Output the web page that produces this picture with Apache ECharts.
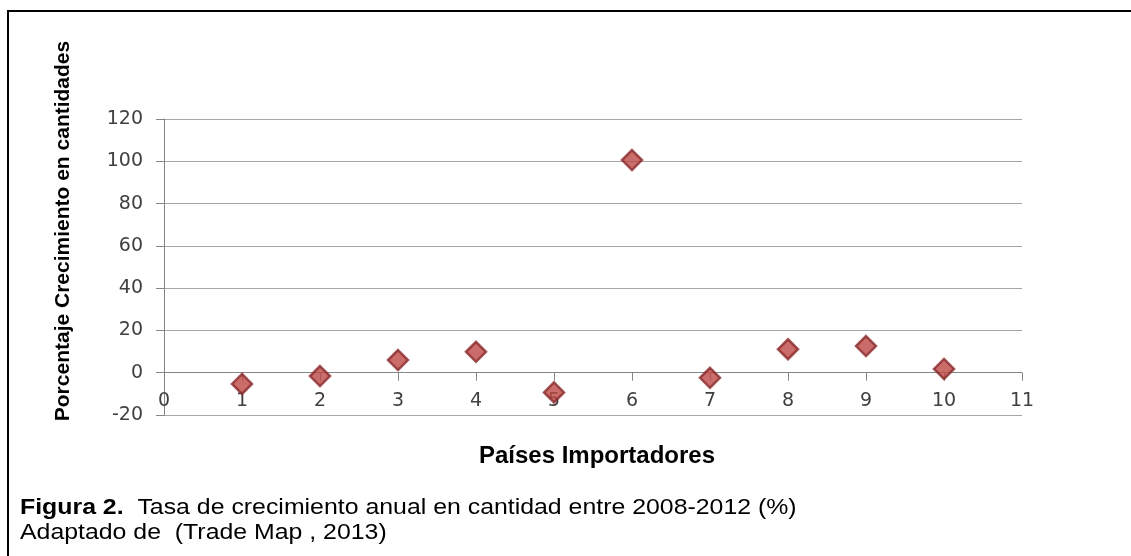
<!DOCTYPE html>
<html>
<head>
<meta charset="utf-8">
<script src="https://cdn.jsdelivr.net/npm/echarts@6/dist/echarts.min.js"></script>
<style>
  html, body { margin: 0; padding: 0; background: #fff; }
  #chart { width: 1131px; height: 556px; }
</style>
</head>
<body>
<div id="chart"></div>
<script>
// Importing countries (numbered 1..10) and their annual quantity growth, 2008-2012 (%)
const paises = [1, 2, 3, 4, 5, 6, 7, 8, 9, 10];
const crecimiento = [-5.3, -1.6, 6.0, 9.9, -9.3, 100.6, -2.4, 11.1, 12.6, 1.8];

const yTitulo = 'Porcentaje Crecimiento en cantidades';
const xTitulo = 'Países Importadores';
const figuraEtiqueta = 'Figura 2.';
const figuraTexto = '  Tasa de crecimiento anual en cantidad entre 2008-2012 (%)';
const fuente = 'Adaptado de  (Trade Map , 2013)';

const puntos = paises.map((p, i) => [p, crecimiento[i]]);

const chart = echarts.init(document.getElementById('chart'), null, { renderer: 'canvas' });

const ejeColor = '#868686';
const rejillaColor = '#a6a6a6';
const etiquetaFuente = { fontFamily: 'DejaVu Sans', fontSize: 19, color: '#404040' };
const sans = 'Liberation Sans';

chart.setOption({
  animation: false,
  backgroundColor: '#fff',
  grid: { left: 164, right: 109, top: 119, bottom: 141 },
  xAxis: {
    type: 'value',
    min: 0, max: 11, interval: 1,
    axisLine: { show: true, onZero: true, lineStyle: { color: ejeColor, width: 1 } },
    axisTick: { show: true, length: 8, inside: false, lineStyle: { color: ejeColor } },
    axisLabel: Object.assign({ margin: -23 }, etiquetaFuente),
    splitLine: { show: false }
  },
  yAxis: {
    type: 'value',
    min: -20, max: 120, interval: 20,
    axisLine: { show: true, lineStyle: { color: ejeColor, width: 1 } },
    axisTick: { show: true, length: 8, lineStyle: { color: ejeColor } },
    axisLabel: Object.assign({ margin: 21 }, etiquetaFuente),
    splitLine: { show: true, lineStyle: { color: rejillaColor, width: 1 } }
  },
  series: [{
    type: 'scatter',
    data: puntos,
    symbol: 'diamond',
    symbolSize: 20,
    itemStyle: { color: '#bd4744', borderColor: '#88292a', borderWidth: 2.5 }
  }],
  graphic: [
    // frame: top and left rules
    { type: 'line', shape: { x1: 7, y1: 11, x2: 1131, y2: 11 }, style: { stroke: '#000', lineWidth: 2 } },
    { type: 'line', shape: { x1: 8, y1: 10, x2: 8, y2: 556 }, style: { stroke: '#000', lineWidth: 2 } },
    // y axis title
    {
      type: 'text', x: 63, y: 231, rotation: Math.PI / 2,
      style: {
        text: yTitulo, fontFamily: sans, fontWeight: 'bold', fontSize: 21,
        fill: '#000', align: 'center', verticalAlign: 'middle'
      }
    },
    // x axis title
    {
      type: 'text', x: 597, y: 456,
      style: {
        text: xTitulo, fontFamily: sans, fontWeight: 'bold', fontSize: 24,
        fill: '#000', align: 'center', verticalAlign: 'middle'
      }
    },
    // caption, set slightly wide
    {
      type: 'text', x: 20, y: 508, scaleX: 1.13,
      style: {
        text: '{b|' + figuraEtiqueta + '}{r|' + figuraTexto + '}',
        verticalAlign: 'middle',
        rich: {
          b: { fontFamily: sans, fontWeight: 'bold', fontSize: 22, fill: '#000' },
          r: { fontFamily: sans, fontSize: 22, fill: '#000' }
        }
      }
    },
    {
      type: 'text', x: 20, y: 533, scaleX: 1.13,
      style: {
        text: fuente, fontFamily: sans, fontSize: 22,
        fill: '#000', verticalAlign: 'middle'
      }
    }
  ]
});
</script>
</body>
</html>
